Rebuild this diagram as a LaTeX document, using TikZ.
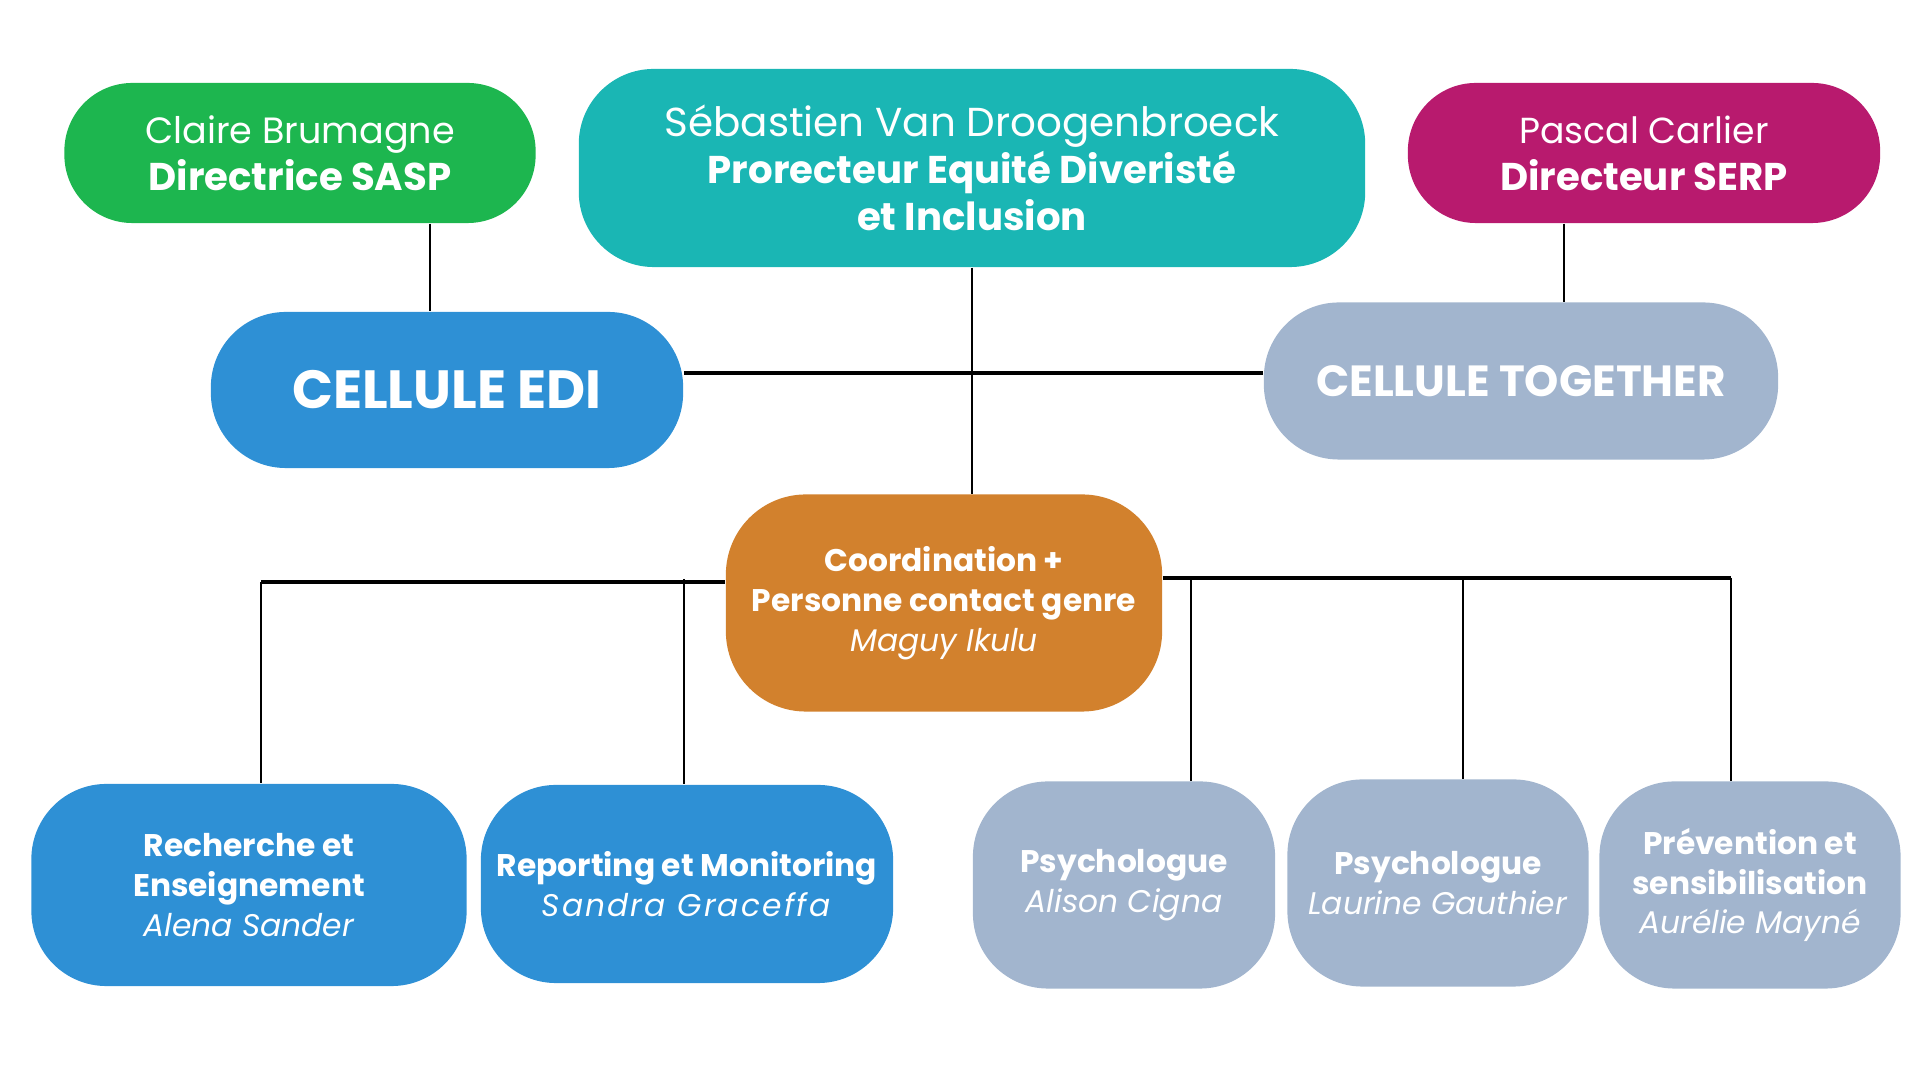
\documentclass[tikz,border=0pt]{standalone}
\usepackage{fontspec}
\setmainfont{Poppins}
\definecolor{saspgreen}{HTML}{1DB64F}
\definecolor{editeal}{HTML}{1AB6B4}
\definecolor{serppink}{HTML}{B81A6E}
\definecolor{edibleu}{HTML}{2E90D5}
\definecolor{togethergris}{HTML}{A2B5CE}
\definecolor{coordorange}{HTML}{D2812D}
\newcommand{\nomhaut}[2]{{\fontsize{#1}{13.4}\selectfont #2}}
\tikzset{
    box/.style={rounded corners=#1, text=white, align=center, inner sep=0pt},
    box/.default=0.75cm,
    topfont/.style={font=\fontsize{11}{13.4}\selectfont},
    smallfont/.style={font=\fontsize{8.9}{11.3}\selectfont},
    link/.style={line width=0.6pt, black},
    bar/.style={line width=1.2pt, black}
}
\begin{document}
\begin{tikzpicture}[x=0.01cm, y=-0.01cm]
    \useasboundingbox (0,0) rectangle (1920,1080);

    % Top row
    \node[box=0.68cm, topfont, fill=saspgreen, minimum width=4.71cm, minimum height=1.40cm]
        (claire) at (300,153) {\nomhaut{10.4}{Claire Brumagne}\\\textbf{Directrice SASP}};
    \node[box=0.75cm, topfont, fill=editeal, minimum width=7.86cm, minimum height=1.98cm]
        (sebastien) at (972,168) {\nomhaut{11.5}{Sébastien Van Droogenbroeck}\\\textbf{Prorecteur Equité Diveristé}\\\textbf{et Inclusion}};
    \node[box=0.68cm, topfont, fill=serppink, minimum width=4.72cm, minimum height=1.40cm]
        (pascal) at (1644,153) {\nomhaut{10.3}{Pascal Carlier}\\\textbf{Directeur SERP}};

    % Cellules
    \node[box=0.75cm, font=\fontsize{15.3}{18}\selectfont\bfseries, fill=edibleu, minimum width=4.72cm, minimum height=1.56cm]
        (edi) at (447,390) {CELLULE EDI};
    \node[box=0.75cm, font=\fontsize{12.4}{15}\selectfont\bfseries, fill=togethergris, minimum width=5.14cm, minimum height=1.57cm]
        (together) at (1521,381) {CELLULE TOGETHER};

    % Coordination
    \node[box=0.8cm, smallfont, fill=coordorange, minimum width=4.36cm, minimum height=2.17cm]
        (coord) at (944,603) {\textbf{Coordination +}\\\textbf{Personne contact genre}\\\textit{Maguy Ikulu}};

    % Bottom row
    \node[box=0.75cm, smallfont, fill=edibleu, minimum width=4.35cm, minimum height=2.02cm]
        (recherche) at (249,885) {\textbf{Recherche et}\\\textbf{Enseignement}\\\textit{Alena Sander}};
    \node[box=0.75cm, smallfont, fill=edibleu, minimum width=4.12cm, minimum height=1.98cm]
        (reporting) at (687,884) {\textbf{Reporting et Monitoring}\\\textit{\addfontfeature{LetterSpace=7}Sandra Graceffa}};
    \node[box=0.75cm, smallfont, fill=togethergris, minimum width=3.02cm, minimum height=2.07cm]
        (psyA) at (1124,885) {\textbf{Psychologue}\\\textit{Alison Cigna}};
    \node[box=0.75cm, smallfont, fill=togethergris, minimum width=3.01cm, minimum height=2.07cm]
        (psyB) at (1438,883) {\textbf{Psychologue}\\\textit{Laurine Gauthier}};
    \node[box=0.75cm, smallfont, fill=togethergris, minimum width=3.01cm, minimum height=2.07cm]
        (prevention) at (1750,885) {\textbf{Prévention et}\\\textbf{sensibilisation}\\\textit{Aurélie Mayné}};

    % Junctions
    \coordinate (lbarA) at (261,582);
    \coordinate (lbarB) at (684,579);
    \coordinate (rbarA) at (1191,578);
    \coordinate (rbarB) at (1463,578);
    \coordinate (rbarC) at (1731,578);

    % Upper links
    \draw[link] (claire.south -| 430,0) -- (edi.north -| 430,0);
    \draw[link] (pascal.south -| 1564,0) -- (together.north -| 1564,0);
    \draw[link] (sebastien.south) -- (coord.north -| sebastien.south);
    \draw[bar] (edi.east |- 0,373) -- (together.west |- 0,373);

    % Lower bars
    \draw[bar] (coord.west |- lbarA) -- (lbarA);
    \draw[bar] (coord.east |- rbarA) -- (rbarC);
    \draw[link] (lbarA) -- (recherche.north -| lbarA);
    \draw[link] (lbarB) -- (reporting.north -| lbarB);
    \draw[link] (rbarA) -- (psyA.north -| rbarA);
    \draw[link] (rbarB) -- (psyB.north -| rbarB);
    \draw[link] (rbarC) -- (prevention.north -| rbarC);
\end{tikzpicture}
\end{document}
